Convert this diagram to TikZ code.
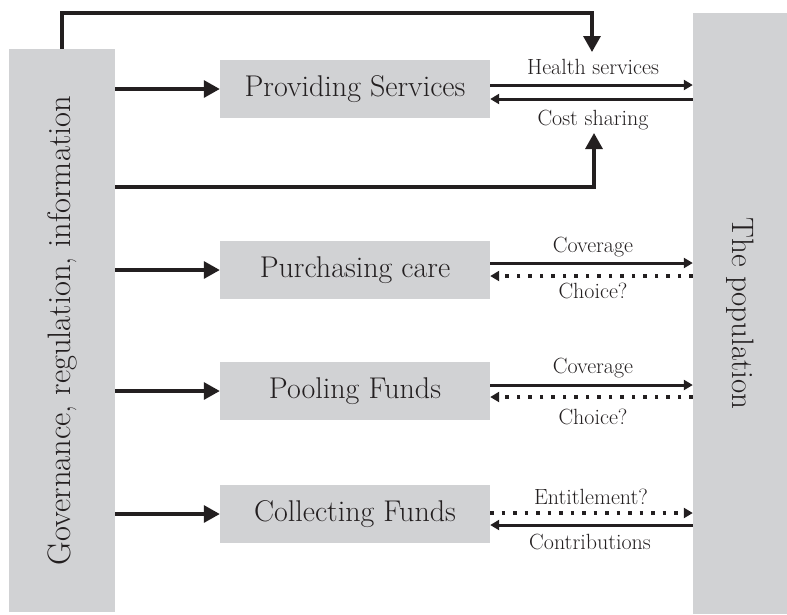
\documentclass[tikz,border=0pt]{standalone}
\usetikzlibrary{arrows.meta}
\definecolor{boxgray}{HTML}{D1D2D4}
\definecolor{ink}{HTML}{231F20}
\begin{document}
\begin{tikzpicture}[x=1pt,y=-1pt,
  graybar/.style={fill=boxgray, draw=none, inner sep=0pt, text=ink},
  funcbox/.style={fill=boxgray, draw=none, inner sep=0pt, minimum width=270pt, minimum height=58pt, text=ink, font=\fontsize{30}{32}\selectfont},
  flowlabel/.style={anchor=base, inner sep=0pt, text=ink, font=\fontsize{22}{24}\selectfont},
  bigarrow/.style={draw=ink, line width=3.2pt, line join=miter, -{Triangle[length=16pt,width=17pt]}},
  smallarrow/.style={draw=ink, line width=3pt, -{Triangle[length=9pt,width=10pt]}},
  dotarrow/.style={draw=ink, line width=3.5pt, dash pattern=on 3.5pt off 8pt, -{Triangle[length=9pt,width=10pt]}}
]
\useasboundingbox (0,0) rectangle (787,614);

\node[graybar, minimum width=106pt, minimum height=563pt] (gov) at (62,330.5)
  {\rotatebox{90}{\fontsize{32.5}{34}\selectfont Governance, regulation, information}};
\node[graybar, minimum width=94pt, minimum height=601pt] (pop) at (740,313.5)
  {\rotatebox{-90}{\fontsize{31}{33}\selectfont The population}};

\node[funcbox] (prov) at (355,89) {Providing Services};
\node[funcbox] (purch) at (355,270) {Purchasing care};
\node[funcbox] (pool) at (355,391) {Pooling Funds};
\node[funcbox] (coll) at (355,514) {Collecting Funds};

% governance to functions
\draw[bigarrow] (gov.east |- prov.west) -- (prov.west);
\draw[bigarrow] (gov.east |- purch.west) -- (purch.west);
\draw[bigarrow] (gov.east |- pool.west) -- (pool.west);
\draw[bigarrow] (gov.east |- coll.west) -- (coll.west);

% top and bottom governance lines
\coordinate (topR) at (592,13);
\coordinate (tipT) at (592,52);
\draw[bigarrow] (gov.north) |- (topR) -- (tipT);
\coordinate (botR) at (594,187);
\coordinate (tipB) at (594,133);
\draw[bigarrow] (gov.east |- botR) -- (botR) -- (tipB);

% providing services
\coordinate (hs) at (prov.east |- 0,85);
\coordinate (cs) at (prov.east |- 0,99);
\draw[smallarrow] (hs) -- (hs -| pop.west);
\draw[smallarrow] (cs -| pop.west) -- (cs);
\node[flowlabel] (lhs) at (593,74) {Health services};
\node[flowlabel] (lcs) at (593,125) {Cost sharing};

% purchasing
\coordinate (pc) at (purch.east |- 0,263);
\coordinate (pch) at (purch.east |- 0,276);
\draw[smallarrow] (pc) -- (pc -| pop.west);
\draw[dotarrow] (pch -| pop.west) -- (pch);
\node[flowlabel] (lpc) at (593,252) {Coverage};
\node[flowlabel] (lpch) at (593,298) {Choice?};

% pooling
\coordinate (oc) at (pool.east |- 0,385);
\coordinate (och) at (pool.east |- 0,397);
\draw[smallarrow] (oc) -- (oc -| pop.west);
\draw[dotarrow] (och -| pop.west) -- (och);
\node[flowlabel] (loc) at (593,373) {Coverage};
\node[flowlabel] (loch) at (593,424) {Choice?};

% collecting
\coordinate (ce) at (coll.east |- 0,513);
\coordinate (cc) at (coll.east |- 0,525);
\draw[dotarrow] (ce) -- (ce -| pop.west);
\draw[smallarrow] (cc -| pop.west) -- (cc);
\node[flowlabel] (lce) at (591,504) {Entitlement?};
\node[flowlabel] (lcc) at (590,549) {Contributions};
\end{tikzpicture}
\end{document}
